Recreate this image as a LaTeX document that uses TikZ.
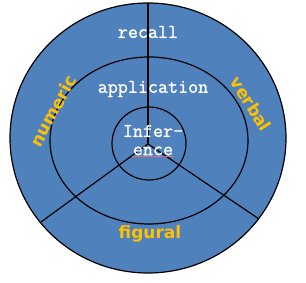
\documentclass[tikz,border=0pt]{standalone}
\usepackage{fontspec}
\setmonofont{Latin Modern Mono}[FakeBold=1.2]
\newfontfamily\labelfont{DejaVu Sans}
\usepackage{tikz}
\usetikzlibrary{positioning,calc}
\definecolor{ringblue}{RGB}{79,129,189}
\definecolor{axisgold}{RGB}{255,192,0}
\definecolor{spellred}{RGB}{220,110,130}
\tikzset{
  ringline/.style={draw=black, line width=1.2pt},
  levelbox/.style={text=white, font=\ttfamily\fontsize{19.5}{20}\selectfont,
                   inner sep=1pt, align=center},
  axisbox/.style ={text=axisgold, font=\labelfont\bfseries\fontsize{17}{18}\selectfont,
                   inner sep=1pt},
}

\begin{document}
\begin{tikzpicture}[x=1pt,y=-1pt]
  \useasboundingbox (0,0) rectangle (306,283);
  % rings
  \draw[ringline, fill=ringblue] (148,138) ellipse [x radius=138pt, y radius=135pt];
  \draw[ringline] (149,140.5) ellipse [x radius=99pt, y radius=83.5pt];
  \draw[ringline] (149,143.5) ellipse [x radius=37pt, y radius=36.5pt];
  % spokes
  \coordinate (hub) at (148,144);
  \coordinate (up) at (148,3);
  \coordinate (lowleft) at (41,222);
  \coordinate (lowright) at (259,219);
  \draw[ringline] (hub)--(up);
  \draw[ringline] (hub)--(lowleft);
  \draw[ringline] (hub)--(lowright);
  % levels
  \node[levelbox] (recall) at (148,32) {recall};
  \node[levelbox] (appl) at (153,89) {application};
  \node[levelbox] (infer) at (153,131) {Infer-};
  \node[levelbox] (ence) at (153,151) {ence};
  \draw[spellred, line width=0.8pt] (ence.south west)--(ence.south east);
  % axes
  \node[axisbox, rotate=61.5] (numeric) at (53,111) {numeric};
  \node[axisbox, rotate=-57.5] (verbal) at (251,104) {verbal};
  \node[axisbox] (figural) at (150,234) {figural};
\end{tikzpicture}
\end{document}
